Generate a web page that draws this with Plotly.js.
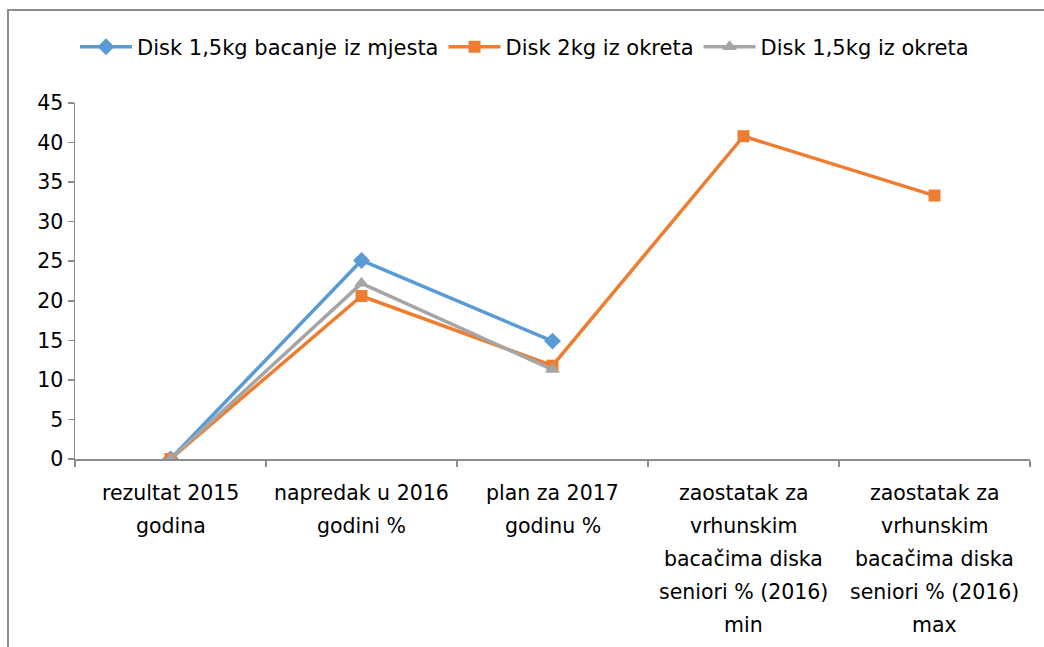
<!DOCTYPE html>
<html>
<head>
<meta charset="utf-8">
<script src="https://cdn.plot.ly/plotly-3.0.1.min.js"></script>
<style>
html,body{margin:0;padding:0;background:#fff;}
#wrap{position:relative;width:1044px;height:647px;}
#frame{position:absolute;left:7px;top:9px;width:1100px;height:700px;border-left:2px solid #8c8c8c;border-top:2px solid #8c8c8c;pointer-events:none;z-index:5;}
#chart{position:absolute;left:0;top:0;width:1044px;height:647px;}
</style>
</head>
<body>
<div id="wrap">
<div id="chart"></div>
<div id="frame"></div>
</div>
<script>
const categories = [
  "rezultat 2015<br>godina",
  "napredak u 2016<br>godini %",
  "plan za 2017<br>godinu %",
  "zaostatak za<br>vrhunskim<br>bacačima diska<br>seniori % (2016)<br>min",
  "zaostatak za<br>vrhunskim<br>bacačima diska<br>seniori % (2016)<br>max"
];
const seriesNames = ["Disk 1,5kg bacanje iz mjesta", "Disk 2kg iz okreta", "Disk 1,5kg iz okreta"];
const disk15Mjesta = [0, 25.1, 14.9, null, null];
const disk2Okreta = [0, 20.6, 11.8, 40.8, 33.3];
const disk15Okreta = [0, 22.2, 11.3, null, null];
const yTicks = [0, 5, 10, 15, 20, 25, 30, 35, 40, 45];

const font = {family: "'DejaVu Sans', sans-serif", size: 20.5, color: "#000"};
const legendFont = {family: "'DejaVu Sans', sans-serif", size: 21, color: "#000"};

const traces = [
  {x: categories, y: disk15Mjesta, name: seriesNames[0], type: "scatter", mode: "lines+markers",
   line: {color: "#5B9BD5", width: 3.5}, marker: {symbol: "diamond", size: 13, color: "#5B9BD5"}},
  {x: categories, y: disk2Okreta, name: seriesNames[1], type: "scatter", mode: "lines+markers",
   line: {color: "#ED7D31", width: 3.5}, marker: {symbol: "square", size: 12, color: "#ED7D31"}},
  {x: categories, y: disk15Okreta, name: seriesNames[2], type: "scatter", mode: "lines+markers",
   line: {color: "#A5A5A5", width: 3.5}, marker: {symbol: "triangle-up", size: 13, color: "#A5A5A5"}}
];

// category labels: one annotation per line so the line spacing matches the original
const annotations = [];
categories.forEach(function (cat) {
  cat.split("<br>").forEach(function (line, i) {
    annotations.push({x: cat, xref: "x", y: 0, yref: "paper", text: line, showarrow: false,
      xanchor: "center", yanchor: "middle", yshift: -(34 + i * 33), font: font});
  });
});

const layout = {
  width: 1044, height: 647,
  margin: {l: 75, r: 14, t: 103, b: 188},
  paper_bgcolor: "#fff", plot_bgcolor: "#fff",
  font: font,
  showlegend: true,
  legend: {orientation: "h", x: 0.0, xanchor: "left", y: 1.157, yanchor: "middle",
           font: legendFont, itemwidth: 52, tracegroupgap: 0},
  xaxis: {type: "category", range: [-0.5, 4.5], showgrid: false, zeroline: false, showline: true,
          linecolor: "#8c8c8c", linewidth: 1.5, ticks: "outside", tickson: "boundaries", ticklen: 6,
          tickcolor: "#8c8c8c", tickwidth: 1.5, showticklabels: false, fixedrange: true},
  yaxis: {range: [0, 45], tickvals: yTicks, ticktext: yTicks.map(String), showgrid: false, zeroline: false,
          showline: true, linecolor: "#8c8c8c", linewidth: 1.5, ticks: "outside", ticklen: 6,
          tickcolor: "#8c8c8c", tickwidth: 1.5, tickfont: font, fixedrange: true},
  annotations: annotations
};

Plotly.newPlot("chart", traces, layout, {displayModeBar: false, staticPlot: true});
</script>
</body>
</html>
